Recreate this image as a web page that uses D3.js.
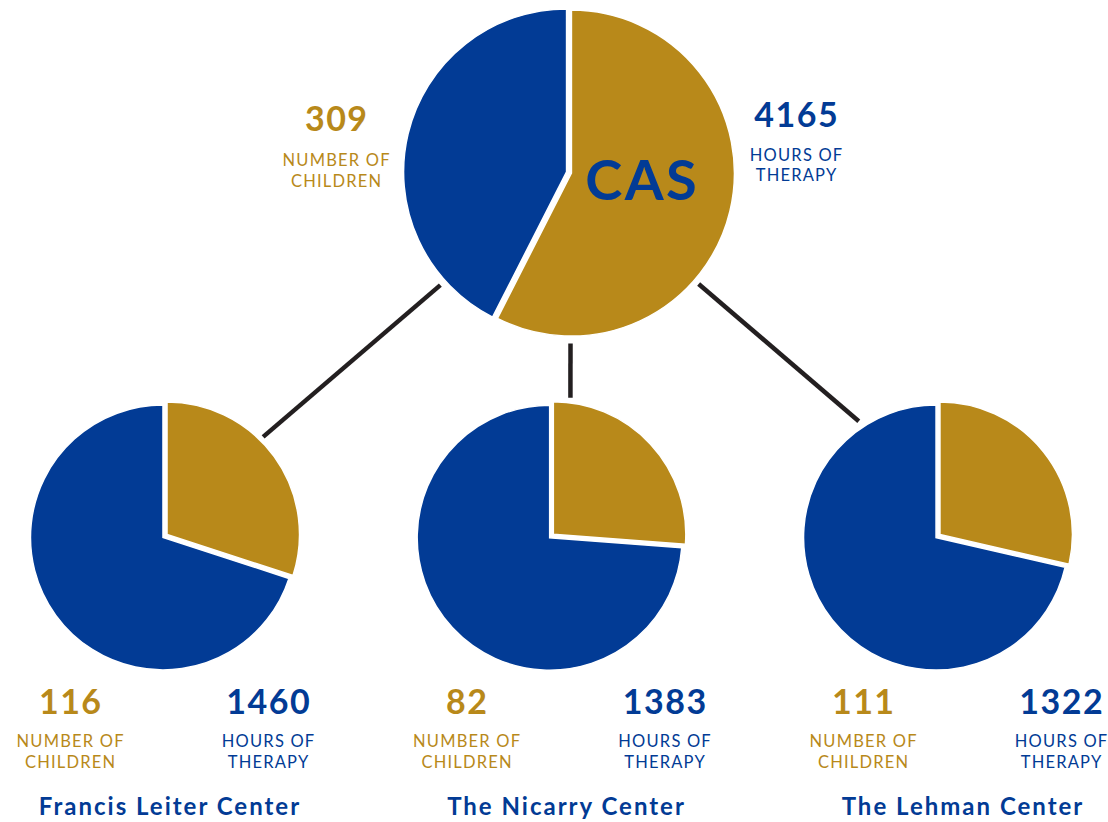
<!DOCTYPE html>
<html>
<head>
<meta charset="utf-8">
<script src="https://cdn.jsdelivr.net/npm/d3@7"></script>
<style>
  html, body { margin: 0; padding: 0; background: #fff; }
  svg { display: block; font-family: Lato, "Open Sans", sans-serif; }
</style>
</head>
<body>
<script>
// values
const centers = ["Francis Leiter Center", "The Nicarry Center", "The Lehman Center"];
const children = [116, 82, 111];
const hours = [1460, 1383, 1322];
// gold share of each centre pie (fraction of the circle)
const goldShare = [0.30, 0.262, 0.286];

const totalName = "CAS";
const totalChildren = 309;
const totalHours = 4165;
const totalGoldShare = 0.575;

const childLabel = ["NUMBER OF", "CHILDREN"];
const hourLabel = ["HOURS OF", "THERAPY"];

const gold = "#b8891a",
    blue = "#023b95",
    ink = "#231f20";

const w = 1108,
    h = 822;

const svg = d3.select("body").append("svg")
    .attr("width", w)
    .attr("height", h);

const pie = d3.pie().sort(null).value(d => d.v);

// x placement of the three lower pies and their captions
const pieX = d3.scalePoint().domain(centers).range([165, 938]);
const textX = d3.scalePoint().domain(centers).range([169, 962]);

const topPie = { x: 569, y: 172.5, r: 163 };
const lowY = 536, lowR = 132.5;

function drawPie(g, share, r, explode) {
    const arc = d3.arc().innerRadius(0).outerRadius(r);
    const slices = pie([{ v: share, c: gold }, { v: 1 - share, c: blue }]);
    g.selectAll("path")
        .data(slices)
        .join("path")
        .attr("d", arc)
        .attr("fill", d => d.data.c)
        .attr("stroke", "#fff")
        .attr("stroke-width", 1.5)
        .attr("transform", d => {
            const a = (d.startAngle + d.endAngle) / 2;
            return `translate(${explode * Math.sin(a)},${-explode * Math.cos(a)})`;
        });
}

// spaced, centred text (dx undoes the trailing letter-spacing)
function label(g, x, y, str, size, weight, ls) {
    return g.append("text")
        .attr("x", x).attr("y", y)
        .attr("dx", ls / 2)
        .attr("text-anchor", "middle")
        .attr("font-size", size)
        .attr("font-weight", weight)
        .attr("letter-spacing", ls)
        .text(str);
}

// connectors: angle on the top pie -> angle on the child pie (degrees, clockwise from 12 o'clock)
const links = [
    { from: 228.8, to: 44.7, child: centers[0] },
    { from: 179.5, to: 7.8, child: centers[1] },
    { from: 130.7, to: 325.4, child: centers[2] }
];
const rad = d => d * Math.PI / 180;
svg.append("g")
    .selectAll("line")
    .data(links)
    .join("line")
    .attr("x1", d => topPie.x + (topPie.r + 8) * Math.sin(rad(d.from)))
    .attr("y1", d => topPie.y - (topPie.r + 8) * Math.cos(rad(d.from)))
    .attr("x2", d => pieX(d.child) + (lowR + 7) * Math.sin(rad(d.to)))
    .attr("y2", d => lowY - (lowR + 7) * Math.cos(rad(d.to)))
    .attr("stroke", ink)
    .attr("stroke-width", 4.5);

// top pie
const gTop = svg.append("g").attr("transform", `translate(${topPie.x},${topPie.y})`);
drawPie(gTop, totalGoldShare, topPie.r, 2.5);

label(svg, 641, 200, totalName, 56, 700, 2.5).attr("fill", blue);

function stat(x, y, value, lines, color, gap) {
    const t = svg.append("g").attr("fill", color);
    label(t, x, y, value, 34, 700, 1.5);
    lines.forEach((s, i) => label(t, x, y + gap + i * 20.5, s, 16.5, 400, 1.2));
}

stat(336, 131, totalChildren, childLabel, gold, 35);
stat(796, 126.5, totalHours, hourLabel, blue, 34);

// lower pies
centers.forEach((c, i) => {
    const g = svg.append("g").attr("transform", `translate(${pieX(c)},${lowY})`);
    drawPie(g, goldShare[i], lowR, 2.5);

    const tx = textX(c);
    stat(tx - 99, 714, children[i], childLabel, gold, 33);
    stat(tx + 99, 714, hours[i], hourLabel, blue, 33);

    label(svg, tx, 815, c, 24, 700, 2).attr("fill", blue);
});
</script>
</body>
</html>
